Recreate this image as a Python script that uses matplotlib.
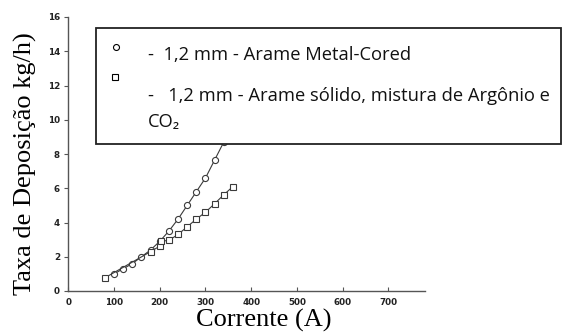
import matplotlib
matplotlib.use("Agg")
import matplotlib.pyplot as plt
from matplotlib.patches import Rectangle
from matplotlib.lines import Line2D

# Data
current_cored = [100, 120, 140, 160, 180, 200, 220, 240, 260, 280, 300, 320, 340]
rate_cored = [1.0, 1.3, 1.6, 2.0, 2.4, 2.9, 3.5, 4.2, 5.0, 5.8, 6.6, 7.65, 8.7]
current_solid = [80, 180, 200, 203, 220, 240, 260, 280, 300, 320, 340, 360]
rate_solid = [0.77, 2.3, 2.62, 2.9, 2.96, 3.3, 3.75, 4.2, 4.6, 5.1, 5.62, 6.1]
xticks = [0, 100, 200, 300, 400, 500, 600, 700]
yticks = [0, 2, 4, 6, 8, 10, 12, 14, 16]
legend_lines = ["-  1,2 mm - Arame Metal-Cored",
                "-   1,2 mm - Arame sólido, mistura de Argônio e",
                "CO\u2082"]

W, H = 563, 333
fig = plt.figure(figsize=(W / 100, H / 100), dpi=100)
ax = fig.add_axes([68.3 / W, 42 / H, (425 - 68.3) / W, (291 - 17) / H])

lc = "#3a3a3a"
ax.plot(current_cored, rate_cored, color=lc, lw=0.8, marker="o", ms=4.4,
        mfc="white", mec=lc, mew=0.8, zorder=3)
ax.plot(current_solid, rate_solid, color=lc, lw=0.8, marker="s", ms=4.4,
        mfc="white", mec=lc, mew=0.8, zorder=3)

ax.set_xlim(0, 780)
ax.set_ylim(0, 16)
ax.set_xticks(xticks)
ax.set_yticks(yticks)
for s in ["top", "right"]:
    ax.spines[s].set_visible(False)
for s in ["left", "bottom"]:
    ax.spines[s].set_color("#555555")
    ax.spines[s].set_linewidth(1.0)
ax.tick_params(axis="both", labelsize=6.3, colors="#555555", labelcolor="#222222",
               length=3, width=0.8, pad=3)
ax.tick_params(axis="x", direction="in", pad=5)
ax.tick_params(axis="y", direction="out")
for t in ax.get_xticklabels() + ax.get_yticklabels():
    t.set_fontweight("bold")

ax.set_xlabel("Corrente (A)", fontfamily="Liberation Serif", fontsize=19)
ax.set_ylabel("Taxa de Deposição kg/h)", fontfamily="Liberation Serif", fontsize=19)
ax.xaxis.set_label_coords(0.547, -0.066)
ax.yaxis.set_label_coords(-0.088, 0.465)

# Legend box
rect = Rectangle((96 / W, 1 - 144 / H), (561 - 96) / W, (144 - 28) / H,
                 transform=fig.transFigure, facecolor="white", edgecolor="#222222",
                 lw=1.3, zorder=10)
fig.add_artist(rect)
fig.add_artist(Line2D([116 / W], [1 - 47.3 / H], marker="o", ms=4.3, mfc="white",
                      mec="black", mew=0.8, transform=fig.transFigure, zorder=11))
fig.add_artist(Line2D([114.5 / W], [1 - 77.3 / H], marker="s", ms=4.3, mfc="white",
                      mec="black", mew=0.8, transform=fig.transFigure, zorder=11))
fam = ["Open Sans", "DejaVu Sans"]
ys = [59.7, 100.7, 127.3]
xs = [148, 148, 148]
for txt, y, x in zip(legend_lines, ys, xs):
    fig.text(x / W, 1 - y / H, txt, family=fam, fontsize=13.2, va="baseline",
             ha="left", zorder=12, color="#111111")

fig.savefig("out.png", dpi=100)
